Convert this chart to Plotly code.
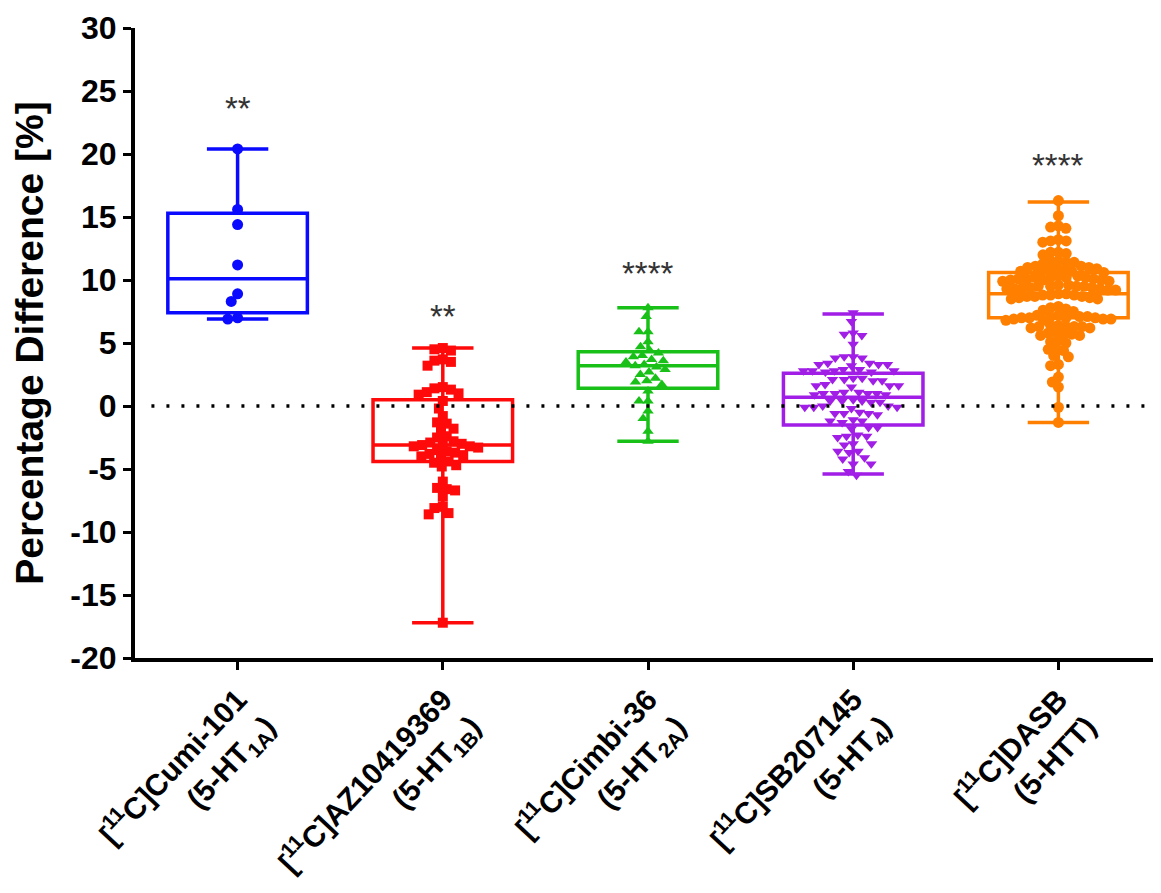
import math
import plotly.graph_objects as go

categories = [
    "<b>[<sup>11</sup>C]Cumi-101<br>(5-HT<sub>1A</sub>)</b>",
    "<b>[<sup>11</sup>C]AZ10419369<br>(5-HT<sub>1B</sub>)</b>",
    "<b>[<sup>11</sup>C]Cimbi-36<br>(5-HT<sub>2A</sub>)</b>",
    "<b>[<sup>11</sup>C]SB207145<br>(5-HT<sub>4</sub>)</b>",
    "<b>[<sup>11</sup>C]DASB<br>(5-HTT)</b>",
]

cumi = [20.4, 15.6, 14.4, 11.2, 8.9, 8.3, 7.0, 6.9]

az = [4.6, 4.5, 4.4, 3.7, 3.6, 3.5, 3.2, 1.5, 1.4, 1.3, 1.1, 1.0, 0.9, 0.4,
      -0.2, -0.8, -1.3, -1.4, -1.8, -1.9, -2.4, -2.5, -2.8, -2.9, -3.0, -3.0,
      -3.1, -3.2, -3.2, -3.3, -3.5, -3.6, -3.7, -3.8, -3.9, -4.0, -4.1, -4.4,
      -4.5, -4.7, -4.8, -6.0, -6.5, -6.6, -6.7, -7.2, -8.0, -8.1, -8.5, -8.6,
      -17.2]

cimbi = [7.8, 7.1, 5.9, 5.9, 5.1, 4.7, 4.4, 4.2, 4.0, 3.9, 3.7, 3.6, 3.5, 3.3,
         3.2, 3.1, 2.9, 2.7, 2.5, 2.2, 2.0, 1.9, 1.7, 1.2, 0.4, 0.4, -0.4, -1.0,
         -2.0, -2.8]

sb = [7.4, 6.7, 5.8, 5.7, 5.6, 4.9, 3.9, 3.9, 3.8, 3.8, 3.4, 3.3, 3.3, 3.2,
      3.3, 3.4, 2.9, 2.8, 2.8, 2.7, 2.9, 2.8, 2.7, 2.8, 2.2, 2.1, 2.0, 2.1, 2.2,
      2.0, 1.6, 1.6, 1.5, 1.7, 1.6, 1.0, 1.1, 0.9, 1.0, 1.0, 0.9, 1.1, 1.0, 0.4,
      0.4, 0.3, 0.5, 0.4, 0.3, -0.1, -0.1, 0.0, -0.2, -0.1, 0.0, -0.6, -0.6,
      -0.7, -0.5, -0.6, -1.2, -1.2, -1.1, -1.3, -1.7, -1.7, -1.8, -2.4, -2.4,
      -2.3, -2.5, -3.0, -3.0, -3.1, -3.6, -3.6, -3.7, -4.1, -4.2, -4.6, -4.6,
      -5.2, -5.5]

dasb = [16.3, 15.1, 14.3, 14.2, 14.1, 13.2, 13.1, 13.0, 13.1, 12.2, 12.1, 12.0,
        12.2, 11.5, 11.4, 11.3, 11.4, 11.5,
        11.1, 11.0, 10.9, 10.8, 10.7, 10.6, 11.1, 11.0, 10.9, 10.8, 10.7, 10.6,
        10.3, 10.2, 10.1, 10.0, 9.9, 10.3, 10.2, 10.1, 10.0, 9.9, 10.2, 10.1, 10.0, 10.2,
        9.6, 9.5, 9.4, 9.3, 9.2, 9.6, 9.5, 9.4, 9.3, 9.2, 9.5, 9.4, 9.3, 9.5,
        8.9, 8.8, 8.7, 8.6, 8.5, 8.9, 8.8, 8.7, 8.6, 8.5, 8.8, 8.7,
        7.9, 7.8, 7.7, 7.6, 7.5,
        7.2, 7.1, 7.0, 6.9, 6.8, 7.2, 7.1, 7.0, 6.9, 6.8, 7.1, 7.0, 6.9, 7.0,
        6.4, 6.3, 6.3, 6.2, 6.4, 6.3, 6.2, 6.3,
        5.8, 5.7, 5.6, 5.8, 5.7, 5.6,
        5.2, 5.1, 5.0, 4.6, 4.5, 4.4, 4.0, 3.9, 3.3, 3.2, 2.3, 1.9, 1.5, -0.1, -1.3]

series = [cumi, az, cimbi, sb, dasb]

# box statistics
q1 = [7.4, -4.4, 1.4, -1.5, 7.0]
med = [10.1, -3.1, 3.2, 0.7, 8.9]
q3 = [15.3, 0.5, 4.3, 2.6, 10.6]
lowf = [6.9, -17.2, -2.8, -5.4, -1.3]
upf = [20.4, 4.6, 7.8, 7.3, 16.2]

colors = ["#0a0aff", "#ff0a0a", "#18c018", "#a01ee6", "#ff8000"]
symbols = ["circle", "square", "triangle-up", "triangle-down", "circle"]
msizes = [11, 10, 10, 10, 11]
spacing = [0.9, 0.85, 0.9, 0.9, 0.72]

stars = ["**", "**", "****", "", "****"]
star_y = [23.6, 7.1, 10.5, 0, 19.1]

# page body has an 8px margin, so the figure is 8px smaller
W, H = 1153, 885
ML, MR, MT, MB = 127, 0, 20, 235
YMIN, YMAX = -20, 30
px_per_x = (W - ML - MR) / 5.0
px_per_y = (H - MT - MB) / (YMAX - YMIN)


def swarm(vals, d):
    """simple beeswarm: offsets in pixels"""
    order = sorted(range(len(vals)), key=lambda i: vals[i], reverse=True)
    placed = []
    offs = [0.0] * len(vals)
    for i in order:
        yp = vals[i] * px_per_y
        cands = [0.0]
        for (xo, yo) in placed:
            dy = abs(yp - yo)
            if dy < d:
                dx = math.sqrt(d * d - dy * dy)
                cands += [xo + dx, xo - dx]
        cands.sort(key=lambda c: (abs(c), c))
        for c in cands:
            ok = True
            for (xo, yo) in placed:
                if (c - xo) ** 2 + (yp - yo) ** 2 < d * d - 1e-6:
                    ok = False
                    break
            if ok:
                offs[i] = c
                placed.append((c, yp))
                break
    return offs


fig = go.Figure()

for k in range(5):
    fig.add_trace(go.Box(
        x=[k], q1=[q1[k]], median=[med[k]], q3=[q3[k]],
        lowerfence=[lowf[k]], upperfence=[upf[k]],
        width=0.68, whiskerwidth=0.44,
        line=dict(color=colors[k], width=3.5),
        fillcolor="rgba(255,255,255,0)",
        boxpoints=False, hoverinfo="skip", showlegend=False,
    ))

for k in range(5):
    offs = swarm(series[k], msizes[k] * spacing[k])
    xs = [k + o / px_per_x for o in offs]
    fig.add_trace(go.Scatter(
        x=xs, y=series[k], mode="markers",
        marker=dict(symbol=symbols[k], size=msizes[k], color=colors[k],
                    line=dict(width=0)),
        showlegend=False, hoverinfo="skip",
    ))

fig.add_shape(type="line", xref="x", yref="y", x0=-0.42, x1=4.5, y0=0, y1=0,
              line=dict(color="black", width=3.5, dash="3px,12px"), layer="above")

for k in range(5):
    if stars[k]:
        fig.add_annotation(x=k, y=star_y[k], text=stars[k], showarrow=False,
                           font=dict(size=33, color="#333333",
                                     family="Arial, Liberation Sans"),
                           yanchor="middle")

fig.update_layout(
    width=W, height=H,
    margin=dict(l=ML, r=MR, t=MT, b=MB, pad=0, autoexpand=False),
    plot_bgcolor="white", paper_bgcolor="white",
    font=dict(family="Arial, Liberation Sans", color="black"),
    showlegend=False,
)

fig.update_xaxes(
    range=[-0.5, 4.5], tickmode="array", tickvals=list(range(5)),
    ticktext=categories, tickangle=-47, automargin=False,
    tickfont=dict(size=30, family="Arial, Liberation Sans", color="black"),
    showline=True, linecolor="black", linewidth=4, mirror=False,
    ticks="outside", ticklen=8, tickwidth=3, tickcolor="black",
    showgrid=False, zeroline=False,
)

fig.update_yaxes(
    range=[YMIN, YMAX], tickvals=[-20, -15, -10, -5, 0, 5, 10, 15, 20, 25, 30],
    ticktext=["<b>%d</b>" % v for v in [-20, -15, -10, -5, 0, 5, 10, 15, 20, 25, 30]],
    tickfont=dict(size=32, family="Arial, Liberation Sans", color="black"),
    showline=True, linecolor="black", linewidth=4, automargin=False,
    ticks="outside", ticklen=8, tickwidth=3, tickcolor="black",
    showgrid=False, zeroline=False,
    title=dict(text="<b>Percentage Difference [%]</b>",
               font=dict(size=39, family="Arial, Liberation Sans", color="black"),
               standoff=16),
)

fig.write_html("out.html")
